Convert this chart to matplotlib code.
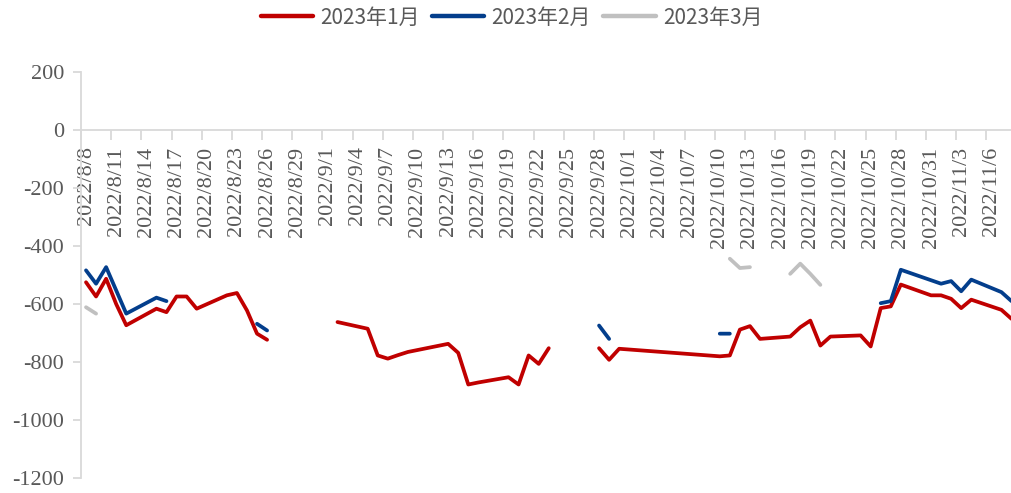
import datetime as dt
import numpy as np
import matplotlib
matplotlib.use("Agg")
import matplotlib.pyplot as plt
import matplotlib.dates as mdates
from matplotlib.ticker import FixedLocator, FuncFormatter

plt.rcParams['axes.unicode_minus'] = False

# trading days only (weekends / holidays have no row, so lines join across them)
days = ["2022-08-08", "2022-08-09", "2022-08-10", "2022-08-11", "2022-08-12", "2022-08-15", "2022-08-16", "2022-08-17", "2022-08-18",
        "2022-08-19", "2022-08-22", "2022-08-23", "2022-08-24", "2022-08-25", "2022-08-26", "2022-08-29", "2022-08-30", "2022-08-31",
        "2022-09-01", "2022-09-02", "2022-09-05", "2022-09-06", "2022-09-07", "2022-09-08", "2022-09-09", "2022-09-13", "2022-09-14",
        "2022-09-15", "2022-09-16", "2022-09-19", "2022-09-20", "2022-09-21", "2022-09-22", "2022-09-23", "2022-09-26", "2022-09-27",
        "2022-09-28", "2022-09-29", "2022-09-30",
        "2022-10-10", "2022-10-11", "2022-10-12", "2022-10-13", "2022-10-14", "2022-10-17", "2022-10-18", "2022-10-19", "2022-10-20",
        "2022-10-21", "2022-10-24", "2022-10-25", "2022-10-26", "2022-10-27", "2022-10-28", "2022-10-31",
        "2022-11-01", "2022-11-02", "2022-11-03", "2022-11-04", "2022-11-07", "2022-11-08"]

series_names = ["2023年1月", "2023年2月", "2023年3月"]

jan = ([-525, -574, -513, -600, -673, -616, -628, -574, -574, -616, -570, -562, -622, -702, -723, None, None, None] +
       [None, -662, -685, -777, -788, -776, -765, -737, -768, -877, -870, -852, -877, -777, -806, -752, None, None, -752, -792, -754] +
       [-780, -777, -688, -676, -720, -712, -680, -657, -743, -712, -708, -746, -614, -608, -533, -570] +
       [-570, -582, -614, -585, -620, -651])

feb = ([-484, -530, -473, -553, -633, -578, -590] + [None] * 6 + [-668, -691, None, None, None] +
       [None] * 18 + [-674, -720, None] +
       [-702, -702] + [None] * 10 + [-597, -590, -482, -518] +
       [-530, -521, -556, -516, -559, -590])

mar = ([-611, -633] + [None] * 16 +
       [None] * 21 +
       [None, -444, -476, -473, None, -496, -461, -496, -534] + [None] * 7 +
       [None] * 6)

colors = ["#C00000", "#033E8C", "#C0C0C0"]

x = mdates.date2num([dt.datetime.strptime(d, "%Y-%m-%d") for d in days])
start = mdates.date2num(dt.datetime(2022, 8, 8))

fig = plt.figure(figsize=(10.11, 4.93), dpi=100)
ax = fig.add_axes([0.0801, 0.0298, 0.9199, 0.8248])

for name, vals, c in zip(series_names, [jan, feb, mar], colors):
    y = np.array([np.nan if v is None else v for v in vals], dtype=float)
    ax.plot(x, y, color=c, lw=2.7, label=name, solid_capstyle='round', solid_joinstyle='round')

ax.set_xlim(start - 0.5, start + 91.95)
ax.set_ylim(-1200, 200)
ax.set_yticks(np.arange(-1200, 201, 200))

# labels every 3 days, tick marks sit between day slots
label_pos = start + np.arange(0, 91, 3)
ax.xaxis.set_major_locator(FixedLocator(label_pos))
ax.xaxis.set_minor_locator(FixedLocator(label_pos - 0.5))
ax.xaxis.set_major_formatter(FuncFormatter(
    lambda v, p: "{0}/{1}/{2}".format(mdates.num2date(v).year, mdates.num2date(v).month, mdates.num2date(v).day)))

ax.spines['bottom'].set_position(('data', 0))
for s in ['top', 'right']:
    ax.spines[s].set_visible(False)
for s in ['left', 'bottom']:
    ax.spines[s].set_color('#D9D9D9')
    ax.spines[s].set_linewidth(1.3)

ax.tick_params(axis='x', which='major', length=0, pad=12, labelrotation=90,
               labelsize=16, labelcolor='#595959')
ax.tick_params(axis='x', which='minor', length=7, width=1.3, color='#D9D9D9', direction='out')
ax.tick_params(axis='y', length=6, width=1.3, color='#D9D9D9', pad=6,
               labelsize=16, labelcolor='#595959')
for lab in ax.get_xticklabels() + ax.get_yticklabels():
    lab.set_fontfamily('Liberation Serif')

leg = fig.legend(loc='upper center', bbox_to_anchor=(0.506, 1.025), ncol=3, frameon=False,
                 handlelength=2.5, handletextpad=0.35, columnspacing=0.6,
                 prop={'family': ['Noto Sans CJK SC', 'DejaVu Sans'], 'size': 15})
for t in leg.get_texts():
    t.set_color('#595959')
for h in leg.get_lines():
    h.set_linewidth(3.2)

fig.savefig("out.png", dpi=100)
